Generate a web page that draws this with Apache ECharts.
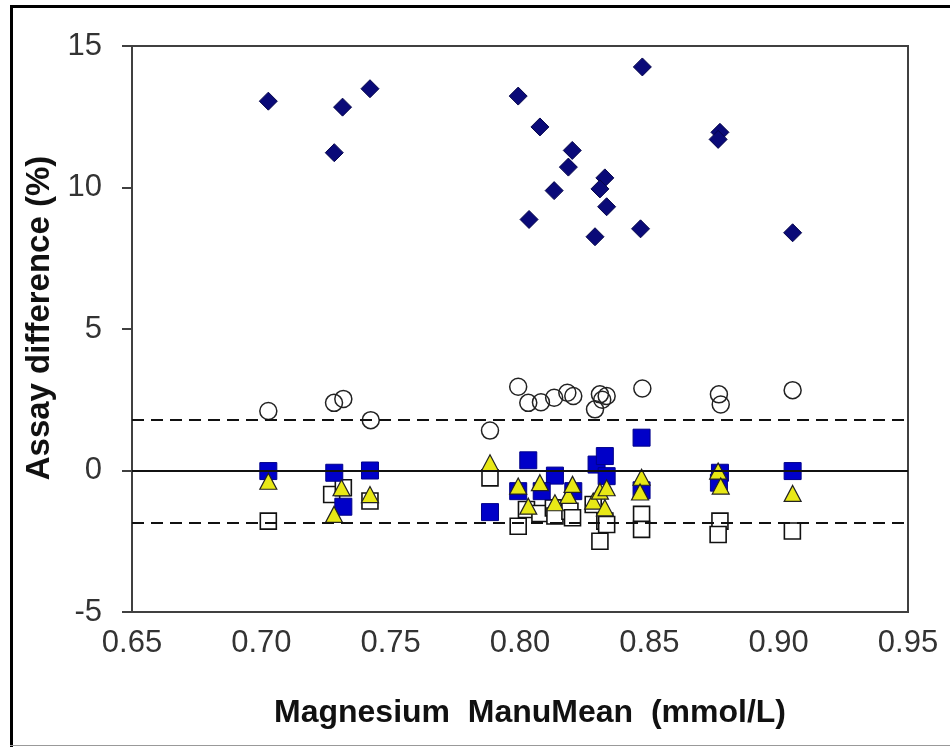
<!DOCTYPE html>
<html>
<head>
<meta charset="utf-8">
<script src="https://cdn.jsdelivr.net/npm/echarts@6/dist/echarts.min.js"></script>
<style>
  html, body { margin: 0; padding: 0; background: #fff; }
  #wrap { position: relative; width: 950px; height: 747px; overflow: hidden; }
  #chart { position: absolute; left: 0; top: 0; width: 950px; height: 747px; }
  .frame-top { position: absolute; left: 10px; top: 5px; width: 940px; height: 3px; background: #000; }
  .frame-left { position: absolute; left: 10px; top: 5px; width: 3px; height: 742px; background: #000; }
  .frame-bottom { position: absolute; left: 10px; top: 745px; width: 940px; height: 1px; background: #999; }
</style>
</head>
<body>
<div id="wrap">
  <div id="chart"></div>
  <div class="frame-top"></div>
  <div class="frame-left"></div>
  <div class="frame-bottom"></div>
</div>
<script>
// x = ManuMean (mmol/L), y = assay difference (%)
const diamondPts = [
    [0.7027, 13.05], [0.7314, 12.84], [0.7420, 13.49], [0.7282, 11.23],
    [0.7993, 13.23], [0.8077, 12.14], [0.8202, 11.31], [0.8187, 10.72],
    [0.8132, 9.89], [0.8328, 10.34], [0.8309, 9.95], [0.8335, 9.32],
    [0.8035, 8.87], [0.8290, 8.26], [0.8466, 8.54], [0.8473, 14.26],
    [0.8773, 11.95], [0.8766, 11.70], [0.9054, 8.40]
];
const circlePts = [
    [0.7027, 2.10], [0.7281, 2.39], [0.7317, 2.53], [0.7423, 1.78],
    [0.7884, 1.41], [0.7993, 2.96], [0.8032, 2.39], [0.8081, 2.41],
    [0.8132, 2.57], [0.8183, 2.75], [0.8206, 2.63], [0.8290, 2.16],
    [0.8309, 2.69], [0.8335, 2.63], [0.8318, 2.50], [0.8473, 2.90],
    [0.8769, 2.69], [0.8776, 2.33], [0.9054, 2.84]
];
const blueSquarePts = [
    [0.7027, -0.02], [0.7282, -0.08], [0.7420, 0.00], [0.7317, -1.28],
    [0.7884, -1.47], [0.8032, 0.36], [0.7993, -0.73], [0.8135, -0.18],
    [0.8084, -0.73], [0.8206, -0.73], [0.8296, 0.21], [0.8328, 0.51],
    [0.8335, -0.20], [0.8470, 1.16], [0.8470, -0.70], [0.8773, -0.08],
    [0.8769, -0.43], [0.9054, -0.02]
];
const trianglePts = [
    [0.7027, -0.38], [0.7281, -1.55], [0.7310, -0.61], [0.7420, -0.85],
    [0.7884, 0.27], [0.7993, -0.55], [0.8077, -0.43], [0.8032, -1.26],
    [0.8135, -1.14], [0.8187, -0.88], [0.8203, -0.49], [0.8283, -1.08],
    [0.8309, -0.73], [0.8335, -0.61], [0.8328, -1.32], [0.8470, -0.24],
    [0.8464, -0.76], [0.8766, -0.02], [0.8776, -0.55], [0.9054, -0.81]
];
const openSquarePts = [
    [0.7027, -1.79], [0.7272, -0.85], [0.7317, -0.61], [0.7420, -1.08],
    [0.7884, -0.26], [0.7993, -1.97], [0.8025, -1.38], [0.8077, -1.52],
    [0.8129, -1.32], [0.8135, -1.61], [0.8193, -1.44], [0.8203, -1.67],
    [0.8283, -1.20], [0.8328, -1.79], [0.8335, -1.91], [0.8309, -2.50],
    [0.8470, -1.55], [0.8470, -2.08], [0.8773, -1.79], [0.8766, -2.26],
    [0.9053, -2.14]
];
const zeroLine = 0;
const limitUpper = 1.8;
const limitLower = -1.85;

const tickFont = 'Liberation Sans, Arial, sans-serif';

function makeChart() {
    let chart = echarts.init(document.getElementById('chart'), null, {renderer: 'canvas'});
    let option = {
        animation: false,
        backgroundColor: 'transparent',
        grid: {
            left: 132, top: 46, right: 42, bottom: 135,
            show: true, borderColor: '#404040', borderWidth: 2,
            containLabel: false
        },
        xAxis: {
            type: 'value',
            min: 0.65, max: 0.95, interval: 0.05,
            name: 'Magnesium  ManuMean  (mmol/L)',
            nameLocation: 'middle',
            nameGap: 85,
            nameTextStyle: {
                fontFamily: tickFont, fontSize: 32, fontWeight: 'bold', color: '#111',
                padding: [0, 0, 0, 20]
            },
            axisLine: {show: true, onZero: false, lineStyle: {color: '#404040', width: 2}},
            axisTick: {show: false},
            axisLabel: {
                fontFamily: tickFont, fontSize: 31, color: '#333', margin: 16,
                formatter: (v) => v.toFixed(2)
            },
            splitLine: {show: false}
        },
        yAxis: {
            type: 'value',
            min: -5, max: 15, interval: 5,
            name: 'Assay difference (%)',
            nameLocation: 'middle',
            nameGap: 76,
            nameTextStyle: {
                fontFamily: tickFont, fontSize: 33, fontWeight: 'bold', color: '#111',
                padding: [0, 0, 0, 22]
            },
            axisLine: {show: true, lineStyle: {color: '#404040', width: 2}},
            axisTick: {show: true, inside: false, length: 10, lineStyle: {color: '#404040', width: 2}},
            axisLabel: {fontFamily: tickFont, fontSize: 31, color: '#333', margin: 30},
            splitLine: {show: false}
        },
        series: [
            {
                name: 'limits',
                type: 'line',
                data: [],
                markLine: {
                    silent: true,
                    symbol: 'none',
                    label: {show: false},
                    data: [
                        {yAxis: zeroLine, lineStyle: {type: 'solid', color: '#111', width: 2}},
                        {yAxis: limitUpper, lineStyle: {type: [12, 7], color: '#111', width: 2}},
                        {yAxis: limitLower, lineStyle: {type: [12, 7], color: '#111', width: 2}}
                    ]
                }
            },
            {
                name: 'Diamonds',
                type: 'scatter',
                data: diamondPts,
                symbol: 'diamond',
                symbolSize: [18, 18],
                itemStyle: {color: '#0a0a78', borderColor: '#06064a', borderWidth: 1, opacity: 1}
            },
            {
                name: 'Circles',
                type: 'scatter',
                data: circlePts,
                symbol: 'circle',
                symbolSize: 17,
                itemStyle: {color: 'rgba(255,255,255,0)', borderColor: '#222', borderWidth: 1.5, opacity: 1}
            },
            {
                name: 'Open squares',
                type: 'scatter',
                data: openSquarePts,
                symbol: 'rect',
                symbolSize: 16,
                itemStyle: {color: '#fff', borderColor: '#111', borderWidth: 1.6, opacity: 1}
            },
            {
                name: 'Blue squares',
                type: 'scatter',
                data: blueSquarePts,
                symbol: 'rect',
                symbolSize: 17,
                itemStyle: {color: '#0000c8', borderColor: '#00008a', borderWidth: 1, opacity: 1}
            },
            {
                name: 'Triangles',
                type: 'scatter',
                data: trianglePts,
                symbol: 'triangle',
                symbolSize: [17, 16],
                itemStyle: {color: '#e8e816', borderColor: '#222', borderWidth: 1.2, opacity: 1}
            }
        ]
    };
    chart.setOption(option);
    return chart;
}

makeChart();
</script>
</body>
</html>
